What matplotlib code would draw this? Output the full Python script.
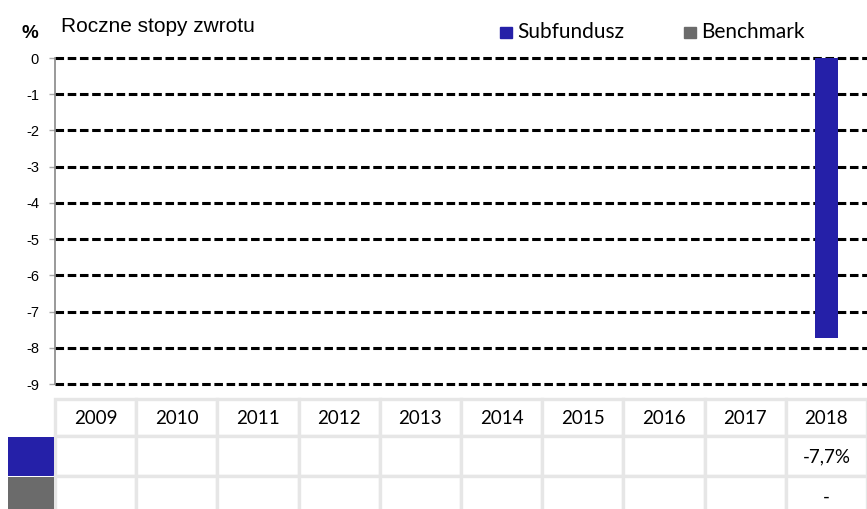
import numpy as np
import matplotlib.pyplot as plt
from matplotlib.patches import Rectangle

years = ["2009", "2010", "2011", "2012", "2013", "2014", "2015", "2016", "2017", "2018"]
subfundusz = [np.nan] * 9 + [-7.74]
benchmark = [np.nan] * 10
row_sub = [""] * 9 + ["-7,7%"]
row_bench = [""] * 9 + ["-"]

blue = "#2520a8"
gray = "#6b6b6b"
W, H = 867, 509

fig = plt.figure(figsize=(W / 100, H / 100), dpi=100)

# main chart, positioned in pixels
ax = fig.add_axes([55 / W, 1 - 384 / H, 812 / W, (384 - 58) / H])
x = np.arange(len(years))
ax.bar(x, subfundusz, width=0.29, color=blue, zorder=3)
ax.set_xlim(-0.5, 9.5)
ax.set_ylim(-9, 0)
ax.set_yticks(np.arange(0, -10, -1))
ax.set_yticklabels([str(v) for v in range(0, -10, -1)], family="Liberation Sans", fontsize=10.5)
ax.set_xticks([])
for v in range(0, -10, -1):
    ax.axhline(v, color="black", lw=2.2, ls=(0, (2.8, 1.2)), zorder=2, clip_on=False)
for s in ["top", "right", "bottom"]:
    ax.spines[s].set_visible(False)
ax.spines["left"].set_color("#888888")
ax.spines["left"].set_linewidth(1.2)
ax.tick_params(axis="y", color="#aaaaaa", length=4.5, width=1, pad=7)

fig.text(61 / W, 1 - 26 / H, "Roczne stopy zwrotu", family="Liberation Sans", fontsize=15, va="center")
fig.text(30 / W, 1 - 33 / H, "%", family="Liberation Sans", fontsize=13.5, fontweight="bold", ha="center", va="center")

# legend
for sx, label, c in [(500, "Subfundusz", blue), (684, "Benchmark", gray)]:
    fig.patches.append(Rectangle((sx / W, 1 - 38 / H), 12 / W, 11 / H, transform=fig.transFigure, color=c))
    fig.text((sx + 17) / W, 1 - 32 / H, label, family="Lato", fontsize=15, va="center")

# table below the chart, in pixel coordinates
tax = fig.add_axes([0, 0, 1, 1 - 384 / H])
tax.set_xlim(0, W)
tax.set_ylim(H, 384)
tax.axis("off")
cw = 812 / len(years)
grid_c = "#e6e6e6"
rows = [(399, 436, years, None), (436, 476, row_sub, blue), (476, 516, row_bench, gray)]
for top, bot, labels, sw in rows:
    for i, lab in enumerate(labels):
        x0 = 55 + i * cw
        tax.add_patch(Rectangle((x0, top), cw, bot - top, facecolor="white", edgecolor=grid_c, lw=2.4, clip_on=False))
        tax.text(x0 + cw / 2, (top + bot) / 2 + 1, lab, family="Lato", fontsize=13.5, ha="center", va="center")
    if sw:
        tax.add_patch(Rectangle((8, top + 1), 46, bot - top - 1, facecolor=sw, edgecolor="none", clip_on=False))

fig.savefig("out.png", dpi=100)
